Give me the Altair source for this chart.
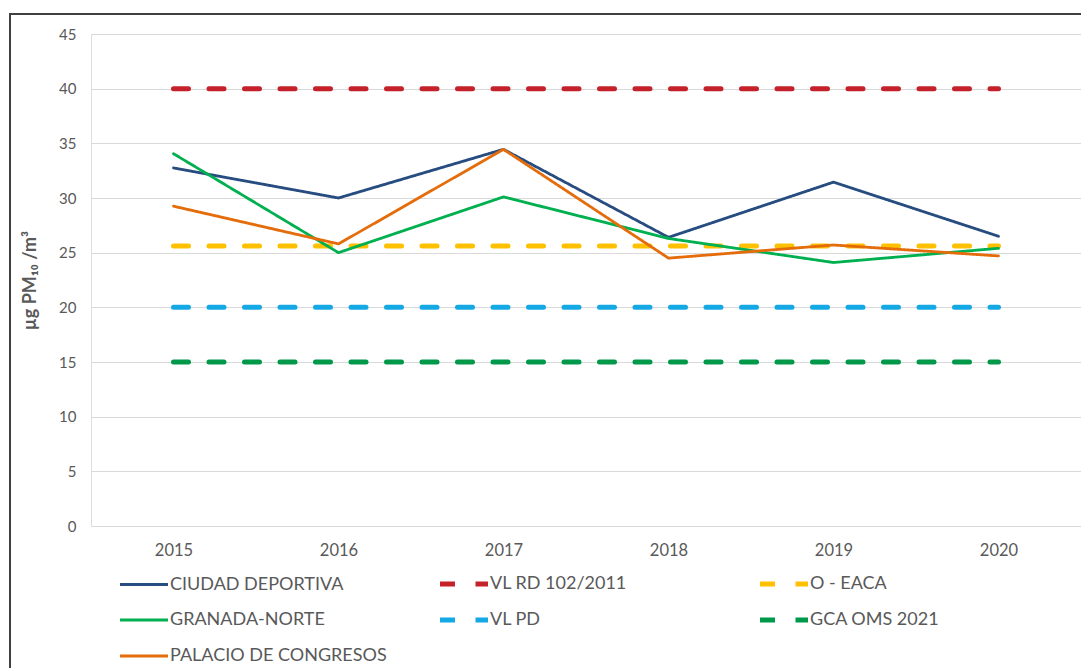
import altair as alt
import pandas as pd

years = ["2015", "2016", "2017", "2018", "2019", "2020"]
ciudad_deportiva = [32.75, 30.0, 34.45, 26.4, 31.45, 26.5]
granada_norte = [34.05, 25.0, 30.1, 26.3, 24.1, 25.4]
palacio_congresos = [29.25, 25.8, 34.45, 24.5, 25.7, 24.7]
vl_rd = [40, 40, 40, 40, 40, 40]
o_eaca = [25.6, 25.6, 25.6, 25.6, 25.6, 25.6]
vl_pd = [20, 20, 20, 20, 20, 20]
gca_oms = [15, 15, 15, 15, 15, 15]

series = {
    "CIUDAD DEPORTIVA": ciudad_deportiva,
    "VL RD 102/2011": vl_rd,
    "O - EACA": o_eaca,
    "GRANADA-NORTE": granada_norte,
    "VL PD": vl_pd,
    "GCA OMS 2021": gca_oms,
    "PALACIO DE CONGRESOS": palacio_congresos,
}
order = list(series.keys())
dashed_names = ["VL RD 102/2011", "O - EACA", "VL PD", "GCA OMS 2021"]
colors = ["#264C80", "#C4212A", "#FFC000", "#00B050", "#14A8E4", "#00994A", "#E46C0A"]
dashes = [[1, 0], [15, 20.5], [15, 20.5], [1, 0], [15, 20.5], [15, 20.5], [1, 0]]

rows = []
for name, vals in series.items():
    for y, v in zip(years, vals):
        rows.append({"serie": name, "year": y, "value": v,
                     "kind": "dashed" if name in dashed_names else "solid"})
df = pd.DataFrame(rows)

FONT = "Lato"
GRAY = "#595959"

is_dashed = "indexof(['VL RD 102/2011','O - EACA','VL PD','GCA OMS 2021'], datum.value) >= 0"

legend = alt.Legend(
    title=None, orient="none", legendX=44, legendY=541, direction="horizontal", columns=3,
    gridAlign="all", columnPadding=43, rowPadding=16,
    symbolType="stroke", symbolSize=2304,
    symbolStrokeWidth={"expr": is_dashed + " ? 5 : 3"},
    labelFont=FONT, labelFontSize=18, labelColor=GRAY, labelOffset=17, labelLimit=400,
)

x_enc = alt.X("year:O", title=None, sort=years,
              axis=alt.Axis(labelAngle=0, domain=False, ticks=False, grid=False,
                            labelPadding=16, labelFontSize=16.5, labelColor=GRAY, labelFont=FONT))
y_enc = alt.Y("value:Q", title="µg PM₁₀ /m³",
              scale=alt.Scale(domain=[0, 45], nice=False),
              axis=alt.Axis(values=[0, 5, 10, 15, 20, 25, 30, 35, 40, 45], domain=False, ticks=False,
                            gridColor="#D9D9D9", gridWidth=1.2, labelPadding=15, labelFontSize=15,
                            labelColor=GRAY, labelFont=FONT, titleFont=FONT, titleFontSize=18,
                            titleFontWeight="bold", titleColor=GRAY, titlePadding=19))
color_enc = alt.Color("serie:N", sort=order, scale=alt.Scale(domain=order, range=colors), legend=legend)
dash_enc = alt.StrokeDash("serie:N", sort=order, scale=alt.Scale(domain=order, range=dashes), legend=legend)

base = alt.Chart(df).encode(x=x_enc, y=y_enc, color=color_enc, strokeDash=dash_enc,
                            order=alt.Order("year:O"))

dashed = base.transform_filter(alt.datum.kind == "dashed").mark_line(strokeWidth=5, strokeCap="round")
solid = base.transform_filter(alt.datum.kind == "solid").mark_line(strokeWidth=2.8, strokeCap="round",
                                                                   strokeJoin="round")

frame = alt.Chart(pd.DataFrame({"a": [0]})).mark_rect(
    fill=None, stroke="#404040", strokeWidth=2
).encode(
    x=alt.value(-81), x2=alt.value(1200), y=alt.value(-20), y2=alt.value(800)
)

chart = alt.layer(frame, dashed, solid).properties(
    width=990, height=492,
    autosize=alt.AutoSizeParams(type="none"),
    padding={"left": 83, "top": 26, "right": 0, "bottom": 142},
).configure_view(stroke=None).configure(background="white")

chart.save("out.html", embed_options={"renderer": "svg", "actions": False})
